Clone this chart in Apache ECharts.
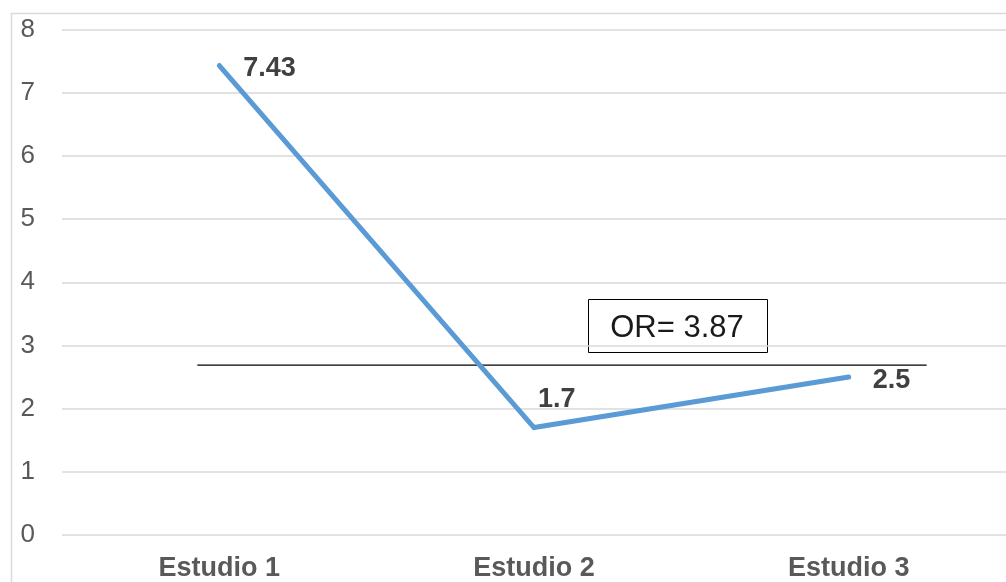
<!DOCTYPE html>
<html>
<head>
<meta charset="utf-8">
<style>
  html, body { margin: 0; padding: 0; background: #fff; }
  #chart { width: 1006px; height: 582px; }
</style>
<script src="https://cdn.jsdelivr.net/npm/echarts@6/dist/echarts.min.js"></script>
</head>
<body>
<div id="chart"></div>
<script>
// Study categories and odds ratios
const categories = ['Estudio 1', 'Estudio 2', 'Estudio 3'];
const oddsRatios = [7.43, 1.7, 2.5];
const yTicks = [0, 1, 2, 3, 4, 5, 6, 7, 8];

// Pooled reference line (x in category-index units, y in axis units)
const pooledLine = [[-0.07, 2.69], [2.248, 2.69]];
const pooledLabel = 'OR= 3.87';

// Label nudges per study (label sits to the right of each point)
const labelOffsets = [[18, 3], [-2, -28], [18, 4]];

const chart = echarts.init(document.getElementById('chart'));

const font = 'Arial, "Liberation Sans", Helvetica, sans-serif';

chart.setOption({
  animation: false,
  backgroundColor: '#fff',
  grid: { left: 62, right: 0, top: 29.5, bottom: 45 },
  xAxis: [
    {
      type: 'category',
      data: categories,
      boundaryGap: true,
      axisLine: { show: false },
      axisTick: { show: false },
      axisLabel: {
        color: '#595959',
        fontFamily: font,
        fontSize: 27,
        fontWeight: 'bold',
        margin: 20
      }
    },
    {
      type: 'value',
      min: -0.5,
      max: 2.5,
      show: false
    }
  ],
  yAxis: {
    type: 'value',
    min: yTicks[0],
    max: yTicks[yTicks.length - 1],
    interval: 1,
    axisLine: { show: false },
    axisTick: { show: false },
    splitLine: { lineStyle: { color: '#d9d9d9', width: 1.5 } },
    axisLabel: {
      color: '#595959',
      fontFamily: font,
      fontSize: 26,
      margin: 27
    }
  },
  series: [
    {
      type: 'line',
      data: oddsRatios.map((v, i) => ({
        value: v,
        label: { offset: labelOffsets[i] }
      })),
      symbol: 'circle',
      symbolSize: 2,
      showSymbol: true,
      itemStyle: { color: '#5b9bd5' },
      lineStyle: { color: '#5b9bd5', width: 5, cap: 'round', join: 'miter' },
      label: {
        show: true,
        position: 'right',
        color: '#404040',
        fontFamily: font,
        fontSize: 27,
        fontWeight: 'bold',
        formatter: p => String(p.value)
      },
      z: 3
    },
    {
      type: 'line',
      xAxisIndex: 1,
      data: pooledLine,
      symbol: 'none',
      lineStyle: { color: '#000', width: 1.2 },
      z: 2
    }
  ],
  graphic: [
    {
      type: 'rect',
      shape: { x: 11.5, y: 13.5, width: 1100, height: 700 },
      style: { fill: 'none', stroke: '#d9d9d9', lineWidth: 1.5 },
      silent: true,
      z: 0
    },
    {
      type: 'group',
      left: 588,
      top: 299,
      children: [
        {
          type: 'rect',
          shape: { x: 0.5, y: 0.5, width: 179, height: 53 },
          style: { fill: '#fff', stroke: '#000', lineWidth: 1 }
        },
        {
          type: 'text',
          x: 89,
          y: 29,
          style: {
            text: pooledLabel,
            fill: '#1a1a1a',
            font: '31px ' + font,
            align: 'center',
            verticalAlign: 'middle'
          }
        }
      ],
      z: 10
    }
  ]
});
</script>
</body>
</html>
